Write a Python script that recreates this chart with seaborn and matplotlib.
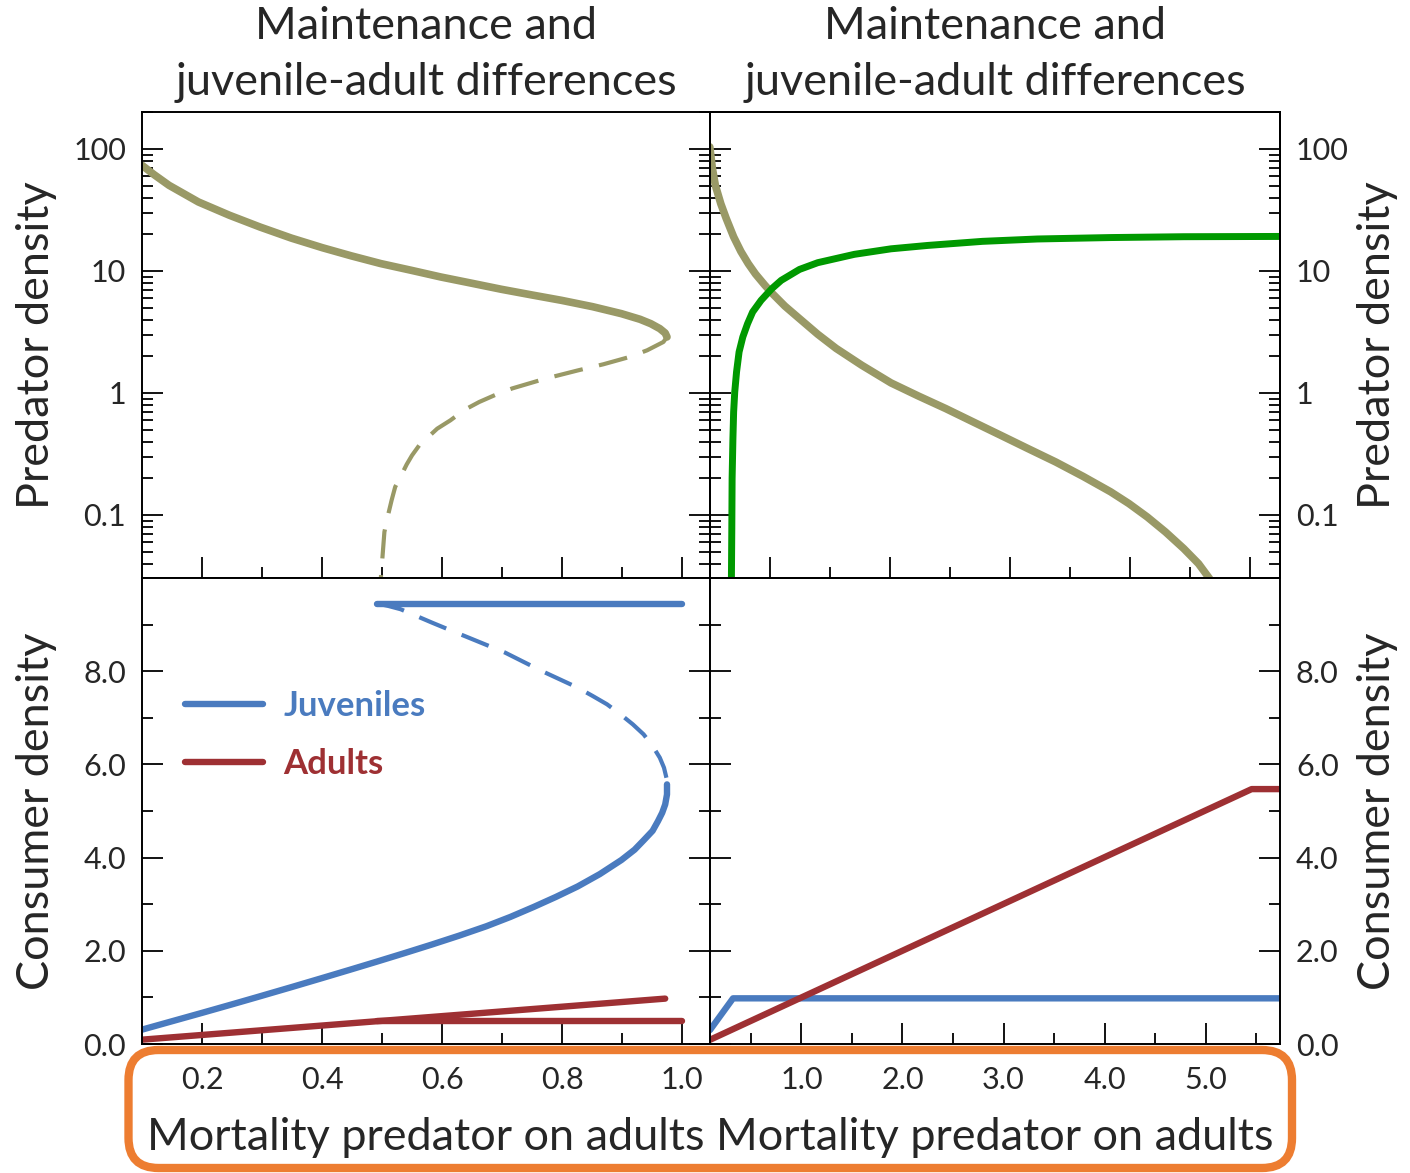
import numpy as np
import pandas as pd
import matplotlib
matplotlib.use("Agg")
import matplotlib.pyplot as plt
import seaborn as sns
from matplotlib.ticker import FixedLocator, FormatStrFormatter, LogLocator, FixedFormatter, NullFormatter
from matplotlib.patches import FancyBboxPatch

# ---------------- data ----------------
# Left column: mortality 0.1 - 1.05, bistable region
mort_pred_stable = [0.100, 0.120, 0.145, 0.194, 0.246, 0.297, 0.349, 0.401, 0.449, 0.498, 0.550,
                    0.598, 0.650, 0.699, 0.750, 0.799, 0.851, 0.899, 0.930, 0.948, 0.963,
                    0.972, 0.975]
pred_stable = [73.5, 61.7, 50.4, 36.8, 28.6, 22.9, 18.6, 15.5, 13.3, 11.5, 10.1,
               8.93, 7.93, 7.08, 6.36, 5.75, 5.10, 4.47, 4.02, 3.70, 3.37,
               3.10, 2.88]
mort_pred_unstable = [0.975, 0.969, 0.942, 0.912, 0.869, 0.826, 0.772, 0.717, 0.690, 0.662,
                      0.638, 0.614, 0.592, 0.577, 0.562, 0.550, 0.541, 0.532, 0.522, 0.516,
                      0.510, 0.504, 0.501, 0.498]
pred_unstable = [2.88, 2.62, 2.24, 1.97, 1.72, 1.53, 1.31, 1.09, 0.97, 0.844,
                 0.730, 0.597, 0.510, 0.436, 0.372, 0.308, 0.259, 0.211, 0.170, 0.132,
                 0.0994, 0.0726, 0.0467, 0.0301]

mort_juv_stable = [0.100, 0.148, 0.200, 0.249, 0.297, 0.349, 0.401, 0.446, 0.492, 0.538,
                   0.583, 0.629, 0.674, 0.714, 0.753, 0.790, 0.826, 0.863, 0.899, 0.921,
                   0.936, 0.951, 0.960, 0.967, 0.972, 0.975, 0.975]
juv_stable = [0.308, 0.481, 0.668, 0.847, 1.025, 1.220, 1.418, 1.591, 1.770, 1.952,
              2.134, 2.327, 2.527, 2.727, 2.942, 3.157, 3.380, 3.646, 3.948, 4.170,
              4.370, 4.575, 4.783, 4.962, 5.141, 5.356, 5.571]
mort_juv_unstable = [0.974, 0.970, 0.963, 0.951, 0.936, 0.918, 0.896, 0.875, 0.851, 0.826,
                     0.796, 0.766, 0.735, 0.705, 0.674, 0.644, 0.614, 0.583, 0.553, 0.531,
                     0.510, 0.492]
juv_unstable = [5.714, 5.929, 6.144, 6.395, 6.645, 6.860, 7.089, 7.290, 7.469, 7.648,
                7.827, 8.006, 8.206, 8.400, 8.564, 8.722, 8.879, 9.044, 9.209, 9.330,
                9.402, 9.452]
mort_adult_stable = [0.100, 0.492, 0.972]
adult_stable = [0.093, 0.489, 0.974]

# predator-free equilibrium
mort_free = [0.492, 1.000]
juv_free = [9.45, 9.45]
adult_free = [0.49, 0.49]

# Right column: mortality 0.1 - 5.7
mort_green = [0.306, 0.310, 0.313, 0.321, 0.328, 0.339, 0.357, 0.382, 0.419, 0.466,
              0.516, 0.600, 0.708, 0.799, 0.980, 1.161, 1.524, 1.886, 2.249, 2.792,
              3.336, 4.060, 4.785, 5.756]
green_density = [0.0301, 0.0773, 0.199, 0.423, 0.698, 1.02, 1.49, 2.17, 2.88, 3.70,
                 4.61, 5.75, 7.19, 8.38, 10.3, 11.7, 13.7, 15.2, 16.2, 17.5,
                 18.3, 18.8, 19.1, 19.2]
mort_olive = [0.092, 0.118, 0.147, 0.201, 0.255, 0.328, 0.400, 0.473, 0.545, 0.636,
              0.708, 0.835, 0.980, 1.161, 1.343, 1.596, 1.886, 2.158, 2.430, 2.702,
              2.973, 3.246, 3.517, 3.789, 4.060, 4.242, 4.423, 4.604, 4.785, 4.931,
              5.040]
olive_density = [104, 69.0, 50.4, 35.6, 26.9, 19.05, 14.45, 11.48, 9.44, 7.67,
                 6.58, 5.16, 4.07, 3.03, 2.32, 1.69, 1.21, 0.944, 0.744, 0.578,
                 0.450, 0.349, 0.272, 0.207, 0.155, 0.124, 0.0964, 0.0726, 0.0530, 0.0399,
                 0.0301]
mort_juv_right = [0.094, 0.322, 5.760]
juv_right = [0.30, 0.98, 0.98]
mort_adult_right = [0.094, 5.457, 5.760]
adult_right = [0.09, 5.47, 5.47]

left_xticks = [0.2, 0.4, 0.6, 0.8, 1.0]
left_xminor = [0.3, 0.5, 0.7, 0.9]
right_xticks = [1.0, 2.0, 3.0, 4.0, 5.0]
right_xminor = [0.5, 1.5, 2.5, 3.5, 4.5, 5.5]
log_ticks = [0.1, 1, 10, 100]
log_labels = ["0.1", "1", "10", "100"]
lin_ticks = [0, 2, 4, 6, 8]
lin_minor = [1, 3, 5, 7, 9]

title = "Maintenance and\njuvenile-adult differences"
xlabel = "Mortality predator on adults"

OLIVE = "#999966"
GREEN = "#009900"
BLUE = "#4A7BBF"
RED = "#9E3033"
ORANGE = "#ED7D31"

# ---------------- style ----------------
sns.set_style("white")
plt.rcParams["font.family"] = ["Lato", "DejaVu Sans"]
plt.rcParams["axes.edgecolor"] = "black"
plt.rcParams["axes.linewidth"] = 1.4

W, H = 1410, 1173
fig = plt.figure(figsize=(W / 100, H / 100), dpi=100)


def rect(l, t, r, b):
    return [l / W, 1 - b / H, (r - l) / W, (b - t) / H]


ax_tl = fig.add_axes(rect(142, 112, 710, 578))
ax_tr = fig.add_axes(rect(710, 112, 1280, 578))
ax_bl = fig.add_axes(rect(142, 578, 710, 1044))
ax_br = fig.add_axes(rect(710, 578, 1280, 1044))

LX = (0.1, 0.1 + 568 / 600)
RX = ((710 - 700.5) / 101, (1280 - 700.5) / 101)
LOGY = (10 ** (-1 - 63 / 122), 10 ** (2 + 37 / 122))
LINY = (0, 10.0)

for ax in (ax_tl, ax_tr):
    ax.set_yscale("log")


def line(ax, x, y, color, lw, dashed=False, label=None):
    kws = dict(color=color, linewidth=lw, solid_capstyle="round", dash_capstyle="butt")
    if dashed:
        kws["linestyle"] = (0, (7, 4))
    if label is not None:
        kws["label"] = label
    sns.lineplot(x=x, y=y, ax=ax, sort=False, estimator=None, legend=False, **kws)


# top-left: predator density
line(ax_tl, mort_pred_stable, pred_stable, OLIVE, 5.5)
line(ax_tl, mort_pred_unstable, pred_unstable, OLIVE, 3.0, dashed=True)

# top-right
line(ax_tr, mort_olive, olive_density, OLIVE, 5.5)
line(ax_tr, mort_green, green_density, GREEN, 5.0)

# bottom-left: consumer densities
line(ax_bl, mort_free, juv_free, BLUE, 4.6)
line(ax_bl, mort_juv_unstable, juv_unstable, BLUE, 3.0, dashed=True)
line(ax_bl, mort_juv_stable, juv_stable, BLUE, 4.6, label="Juveniles")
line(ax_bl, mort_adult_stable, adult_stable, RED, 4.6, label="Adults")
line(ax_bl, mort_free, adult_free, RED, 4.6)

# bottom-right
line(ax_br, mort_juv_right, juv_right, BLUE, 4.6)
line(ax_br, mort_adult_right, adult_right, RED, 4.6)

# ---------------- axes ----------------
MAJ, MIN, TW = 15.0, 8.0, 1.3
TICK_FS = 22
LABEL_FS = 32.4

for ax in (ax_tl, ax_bl):
    ax.set_xlim(*LX)
for ax in (ax_tr, ax_br):
    ax.set_xlim(*RX)
for ax in (ax_tl, ax_tr):
    ax.set_ylim(*LOGY)
    ax.yaxis.set_major_locator(FixedLocator(log_ticks))
    ax.yaxis.set_major_formatter(FixedFormatter(log_labels))
    ax.yaxis.set_minor_locator(LogLocator(base=10, subs=np.arange(2, 10), numticks=20))
    ax.yaxis.set_minor_formatter(NullFormatter())
for ax in (ax_bl, ax_br):
    ax.set_ylim(*LINY)
    ax.yaxis.set_major_locator(FixedLocator(lin_ticks))
    ax.yaxis.set_minor_locator(FixedLocator(lin_minor))
    ax.yaxis.set_major_formatter(FormatStrFormatter("%.1f"))

for ax in (ax_tl, ax_bl):
    ax.xaxis.set_major_locator(FixedLocator(left_xticks))
    ax.xaxis.set_minor_locator(FixedLocator(left_xminor))
    ax.xaxis.set_major_formatter(FormatStrFormatter("%.1f"))
ax_br.xaxis.set_major_locator(FixedLocator(right_xticks))
ax_br.xaxis.set_minor_locator(FixedLocator(right_xminor))
ax_br.xaxis.set_major_formatter(FormatStrFormatter("%.1f"))

# the upper-right panel repeats the tick spacing of the left column
tick_tw = ax_tr.twiny()
tick_tw.set_xlim(0.1, 0.1 + 570 / 600)
tick_tw.xaxis.set_ticks_position("bottom")
tick_tw.xaxis.set_major_locator(FixedLocator(left_xticks))
tick_tw.xaxis.set_minor_locator(FixedLocator(left_xminor))
tick_tw.tick_params(axis="x", which="both", direction="in", top=False, bottom=True,
                    labelbottom=False, labeltop=False, width=TW, color="black")
tick_tw.tick_params(axis="x", which="major", length=MAJ)
tick_tw.tick_params(axis="x", which="minor", length=MIN)
ax_tr.tick_params(axis="x", which="both", bottom=False, top=False,
                  labelbottom=False, labeltop=False)

for ax, side in ((ax_tl, "left"), (ax_bl, "left"), (ax_tr, "right"), (ax_br, "right")):
    ax.tick_params(axis="y", which="both", direction="in", left=True, right=True,
                   width=TW, color="black", labelsize=TICK_FS, pad=11.5,
                   labelleft=(side == "left"), labelright=(side == "right"))
    ax.tick_params(axis="y", which="major", length=MAJ)
    ax.tick_params(axis="y", which="minor", length=MIN)
    for sp in ax.spines.values():
        sp.set_visible(True)
        sp.set_color("black")
        sp.set_linewidth(1.4)

for ax in (ax_tl,):
    ax.tick_params(axis="x", which="both", direction="in", bottom=True, top=False,
                   labelbottom=False, width=TW, color="black")
    ax.tick_params(axis="x", which="major", length=MAJ)
    ax.tick_params(axis="x", which="minor", length=MIN)
for ax in (ax_bl, ax_br):
    ax.tick_params(axis="x", which="both", direction="in", bottom=True, top=False,
                   labelbottom=True, width=TW, color="black", labelsize=TICK_FS, pad=15.5)
    ax.tick_params(axis="x", which="major", length=MAJ)
    ax.tick_params(axis="x", which="minor", length=MIN)

# titles
for ax in (ax_tl, ax_tr):
    ax.set_title(title, fontsize=LABEL_FS, linespacing=1.45, pad=12)

# axis labels
for ax, txt in ((ax_tl, "Predator density"), (ax_bl, "Consumer density")):
    ax.set_ylabel(txt, fontsize=LABEL_FS, va="center")
    ax.yaxis.set_label_coords((37 - 142) / 568, 0.5)
for ax, txt in ((ax_tr, "Predator density"), (ax_br, "Consumer density")):
    ax.yaxis.set_label_position("right")
    ax.set_ylabel(txt, fontsize=LABEL_FS, va="center", rotation=90)
    ax.yaxis.set_label_coords((1378 - 710) / 570, 0.5)
for ax in (ax_tl, ax_tr):
    ax.set_xlabel("")
for ax in (ax_bl, ax_br):
    ax.set_xlabel(xlabel, fontsize=LABEL_FS, va="center")
    ax.xaxis.set_label_coords(0.5, (1044 - 1137) / 466)

# legend
ax_bl.legend(loc="upper left", bbox_to_anchor=((185 - 142) / 568, (1044 - 690) / 466),
             frameon=False, prop={"size": 25, "weight": "bold"}, labelcolor="linecolor",
             handlelength=2.25, handletextpad=0.58, labelspacing=0.74,
             borderpad=0, borderaxespad=0)

# highlight frame around the shared x axis
box = FancyBboxPatch((128.5 / 100, (H - 1168) / 100), (1292 - 128.5) / 100, (1168 - 1050) / 100,
                     boxstyle="round,pad=0,rounding_size=0.3", transform=fig.dpi_scale_trans,
                     fill=False, edgecolor=ORANGE, linewidth=6, clip_on=False)
fig.add_artist(box)

fig.savefig("out.png", dpi=100)
